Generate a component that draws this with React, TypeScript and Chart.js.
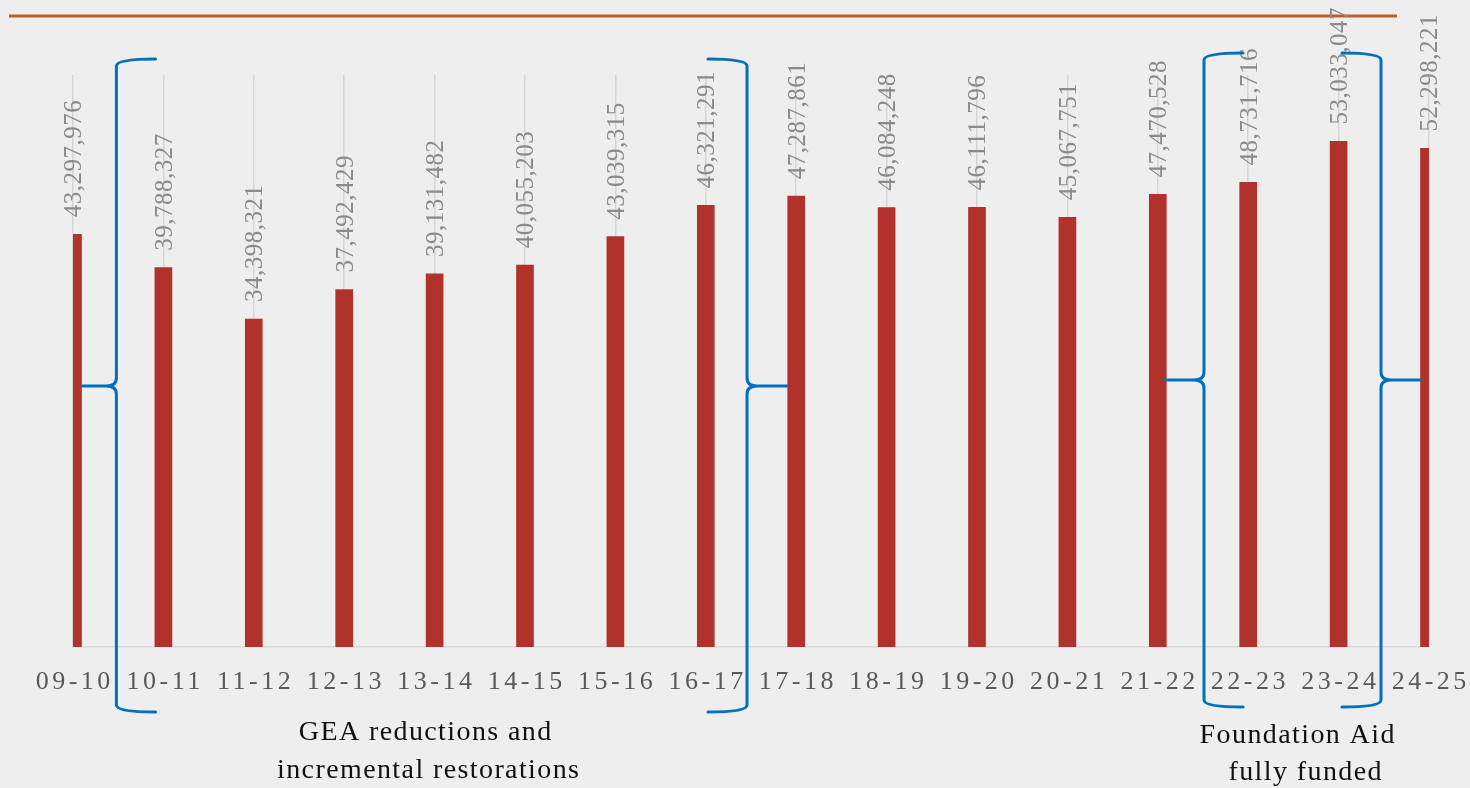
import React, { useEffect, useRef } from 'react';
import { Chart, registerables } from 'chart.js';

Chart.register(...registerables);

const categories = ['09-10', '10-11', '11-12', '12-13', '13-14', '14-15', '15-16', '16-17', '17-18', '18-19', '19-20', '20-21', '21-22', '22-23', '23-24', '24-25'];
const values = [43297976, 39788327, 34398321, 37492429, 39131482, 40055203, 43039315, 46321291, 47287861, 46084248, 46111796, 45067751, 47470528, 48731716, 53033047, 52298221];
const valueLabels = ['43,297,976', '39,788,327', '34,398,321', '37,492,429', '39,131,482', '40,055,203', '43,039,315', '46,321,291', '47,287,861', '46,084,248', '46,111,796', '45,067,751', '47,470,528', '48,731,716', '53,033,047', '52,298,221'];
const yMax = 60000000;

// Brace annotations: base category index, positions as fraction of category spacing
const braces = [
  { base: 0, v: 0.48, tip: 0.913, point: 0.1, top: -16, mid: 311, bottom: 65 },
  { base: 7, v: 0.456, tip: 0.024, point: 0.898, top: -16, mid: 311, bottom: 65 },
  { base: 12, v: 0.511, tip: 0.943, point: 0.08, top: -22, mid: 305, bottom: 60 },
  { base: 14, v: 0.469, tip: 0.038, point: 0.9, top: -22, mid: 305, bottom: 60 },
];
const captions = [
  { text: 'GEA reductions and', x: 425, y: 740 },
  { text: 'incremental restorations', x: 428, y: 778 },
  { text: 'Foundation Aid', x: 1297, y: 743 },
  { text: 'fully funded', x: 1305, y: 780 },
];

const SERIF = '"Liberation Serif", "Times New Roman", serif';

function drawBrace(ctx: CanvasRenderingContext2D, xv: number, xTip: number, xPoint: number, yTop: number, yMid: number, yBot: number) {
  const r = 7;
  const d = Math.sign(xPoint - xv);
  ctx.beginPath();
  ctx.moveTo(xTip, yTop);
  ctx.quadraticCurveTo(xv, yTop, xv, yTop + r);
  ctx.lineTo(xv, yMid - 8);
  ctx.quadraticCurveTo(xv, yMid, xv + d * 10, yMid);
  ctx.lineTo(xPoint, yMid);
  ctx.moveTo(xv + d * 10, yMid);
  ctx.quadraticCurveTo(xv, yMid, xv, yMid + 8);
  ctx.lineTo(xv, yBot - r);
  ctx.quadraticCurveTo(xv, yBot, xTip, yBot);
  ctx.stroke();
}

const decoPlugin = {
  id: 'deco',
  beforeDraw(chart: any) {
    const ctx = chart.ctx as CanvasRenderingContext2D;
    ctx.save();
    ctx.strokeStyle = '#b8622f';
    ctx.lineWidth = 3;
    ctx.beginPath();
    ctx.moveTo(9, 16);
    ctx.lineTo(1397, 16);
    ctx.stroke();
    ctx.restore();
  },
  afterDatasetsDraw(chart: any) {
    const ctx = chart.ctx as CanvasRenderingContext2D;
    const xs = chart.scales.x;
    const ys = chart.scales.y;
    const area = chart.chartArea;
    const sp = xs.getPixelForValue(1) - xs.getPixelForValue(0);

    // value labels
    ctx.save();
    ctx.font = '25px ' + SERIF;
    ctx.fillStyle = '#8a8a8a';
    (ctx as any).letterSpacing = '0.5px';
    ctx.textAlign = 'left';
    ctx.textBaseline = 'alphabetic';
    values.forEach((v, i) => {
      const x = xs.getPixelForValue(i);
      const y = ys.getPixelForValue(v);
      ctx.save();
      ctx.translate(x, y - 17);
      ctx.rotate(-Math.PI / 2);
      ctx.fillText(valueLabels[i], 0, 8.3);
      ctx.restore();
    });
    ctx.restore();

    // category labels
    ctx.save();
    ctx.font = '26px ' + SERIF;
    ctx.fillStyle = '#595959';
    (ctx as any).letterSpacing = '3.5px';
    ctx.textAlign = 'center';
    ctx.textBaseline = 'alphabetic';
    categories.forEach((c, i) => {
      ctx.fillText(c, xs.getPixelForValue(i) + 1.75, area.bottom + 42);
    });
    ctx.restore();

    // braces
    ctx.save();
    ctx.strokeStyle = '#0070c0';
    ctx.lineWidth = 3;
    ctx.lineCap = 'round';
    ctx.lineJoin = 'round';
    braces.forEach((b) => {
      const x0 = xs.getPixelForValue(b.base);
      drawBrace(ctx, x0 + b.v * sp, x0 + b.tip * sp, x0 + b.point * sp, area.top + b.top, area.top + b.mid, area.bottom + b.bottom);
    });
    ctx.restore();

    // captions
    ctx.save();
    ctx.font = '28px ' + SERIF;
    ctx.fillStyle = '#111111';
    (ctx as any).letterSpacing = '1.4px';
    ctx.textAlign = 'center';
    ctx.textBaseline = 'alphabetic';
    captions.forEach((c) => ctx.fillText(c.text, c.x + 0.7, c.y));
    ctx.restore();
  },
};

export default function App() {
  const ref = useRef<HTMLCanvasElement | null>(null);
  useEffect(() => {
    if (!ref.current) return;
    const chart = new Chart(ref.current, {
      type: 'bar',
      data: {
        labels: categories,
        datasets: [
          {
            data: values,
            backgroundColor: '#b0322a',
            barThickness: 17,
            clip: 0,
          } as any,
        ],
      },
      options: {
        responsive: false,
        animation: false,
        layout: { padding: { left: 73, right: 41, top: 75, bottom: 141 } },
        plugins: { legend: { display: false }, tooltip: { enabled: false } },
        scales: {
          x: {
            offset: false,
            grid: { offset: false, color: '#d5d5d5', lineWidth: 1.5, drawTicks: false },
            border: { display: true, color: '#d9d9d9', width: 1.5 },
            ticks: { display: false },
            afterFit: (s: any) => { s.height = 0; },
          },
          y: { display: false, min: 0, max: yMax },
        },
      } as any,
      plugins: [decoPlugin],
    });
    return () => chart.destroy();
  }, []);
  return (
    <div style={{ position: 'fixed', left: 0, top: 0, width: 1470, height: 788, background: '#eeeeee', overflow: 'hidden' }}>
      <canvas ref={ref} width={1470} height={788} style={{ display: 'block', width: 1470, height: 788 }} />
    </div>
  );
}
